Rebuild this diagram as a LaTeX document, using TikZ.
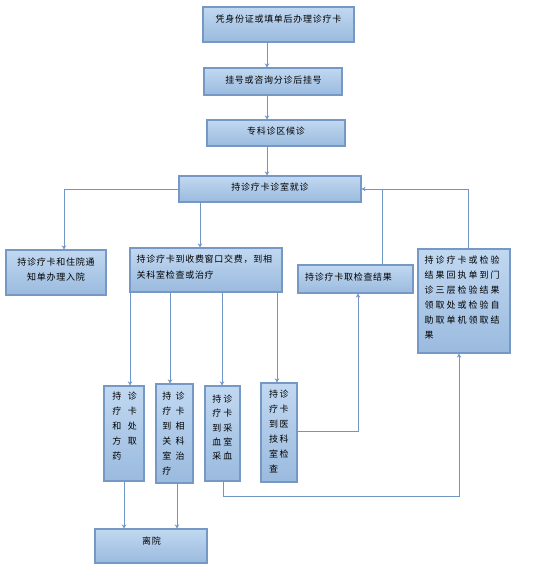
\documentclass[tikz,border=0pt]{standalone}
\usepackage{fontspec}
\newfontfamily\cjk[LetterSpace=8]{Noto Sans CJK SC}
\newfontfamily\cjkw[LetterSpace=22]{Noto Sans CJK SC}
\newfontfamily\cjkv{Noto Sans CJK SC}
\usetikzlibrary{arrows.meta}
\definecolor{bordc}{RGB}{118,152,196}
\definecolor{linec}{RGB}{112,150,198}
\definecolor{topc}{RGB}{193,216,241}
\definecolor{botc}{RGB}{154,186,222}
\newcommand\pr[3]{\makebox[#1][l]{#2}#3}
\begin{document}
\begin{tikzpicture}[x=1pt,y=-1pt,
 box/.style={draw=bordc, line width=1.2pt, top color=topc, bottom color=botc, inner sep=0pt},
 lab/.style={font=\fontsize{9}{15}\selectfont\cjk, inner sep=0pt, text=black},
 vlab/.style={inner sep=0pt, text=black, align=left, anchor=north west},
 conn/.style={draw=linec, line width=1pt},
 arr/.style={conn, -{Stealth[length=4pt,width=4.5pt]}}]
\fill[white] (0,0) rectangle (542,574);
\useasboundingbox (0,0) rectangle (542,574);

% boxes
\node[box, minimum width=151pt, minimum height=35pt] (b1) at (278.5,24.5) {};
\node[box, minimum width=138pt, minimum height=27pt] (b2) at (273,81.5) {};
\node[box, minimum width=138pt, minimum height=26pt] (b3) at (276,133) {};
\node[box, minimum width=182pt, minimum height=26pt] (b4) at (270,189) {};
\node[box, minimum width=100pt, minimum height=45pt] (b5) at (56,272.5) {};
\node[box, minimum width=152pt, minimum height=44pt] (b6) at (206,270) {};
\node[box, minimum width=115pt, minimum height=28pt] (b7) at (355.5,279) {};
\node[box, minimum width=92pt, minimum height=104pt] (b8) at (464,301) {};
\node[box, minimum width=40pt, minimum height=95pt] (b9) at (124,433.5) {};
\node[box, minimum width=37pt, minimum height=99pt] (b10) at (174.5,433.5) {};
\node[box, minimum width=35pt, minimum height=95pt] (b11) at (222.5,433.5) {};
\node[box, minimum width=36pt, minimum height=99pt] (b12) at (279,432.5) {};
\node[box, minimum width=112pt, minimum height=34pt] (b13) at (151,546) {};

% texts
\node[lab] (t1) at (278.5,19) {凭身份证或填单后办理诊疗卡};
\node[lab] (t2) at (273.5,80.5) {挂号或咨询分诊后挂号};
\node[lab] (t3) at (276,131) {专科诊区候诊};
\node[lab] (t4) at (270,187) {持诊疗卡诊室就诊};
\node[lab, align=center, anchor=north] (t5) at (56,257.2) {持诊疗卡和住院通\\知单办理入院};
\node[lab, font=\fontsize{9}{16}\selectfont\cjk, align=left, anchor=north west] (t6) at (136.5,254.5) {持诊疗卡到收费窗口交费，到相\\关科室检查或治疗};
\node[lab, anchor=west] (t7) at (305,277) {持诊疗卡取检查结果};
\node[lab, font=\fontsize{9}{15}\selectfont\cjkw, align=left, anchor=north west] (t8) at (424.5,255.5) {持诊疗卡或检验\\结果回执单到门\\诊三层检验结果\\领取处或检验自\\助取单机领取结\\果};
\node[vlab, font=\fontsize{9}{14.8}\selectfont\cjkv] (t9) at (112.2,392.2) {\pr{15.6pt}{持}{诊}\\\pr{15.6pt}{疗}{卡}\\\pr{15.6pt}{和}{处}\\\pr{15.6pt}{方}{取}\\药};
\node[vlab, font=\fontsize{9}{15}\selectfont\cjkv] (t10) at (162.2,392.2) {\pr{13.3pt}{持}{诊}\\\pr{13.3pt}{疗}{卡}\\\pr{13.3pt}{到}{相}\\\pr{13.3pt}{关}{科}\\\pr{13.3pt}{室}{治}\\疗};
\node[vlab, font=\fontsize{9}{14.3}\selectfont\cjkv] (t11) at (212.2,394.8) {\pr{11pt}{持}{诊}\\\pr{11pt}{疗}{卡}\\\pr{11pt}{到}{采}\\\pr{11pt}{血}{室}\\\pr{11pt}{采}{血}};
\node[vlab, font=\fontsize{9}{15}\selectfont\cjkv] (t12) at (268.8,389.8) {\pr{10.7pt}{持}{诊}\\\pr{10.7pt}{疗}{卡}\\\pr{10.7pt}{到}{医}\\\pr{10.7pt}{技}{科}\\\pr{10.7pt}{室}{检}\\查};
\node[lab] (t13) at (151.5,541) {离院};

% helper coordinates
\coordinate (xa) at (267,0);
\coordinate (xb) at (64,0);
\coordinate (xc) at (200,0);
\coordinate (xd) at (382,0);
\coordinate (xe) at (468,0);
\coordinate (x130) at (130,0);
\coordinate (x170) at (170,0);
\coordinate (x222) at (222,0);
\coordinate (x277) at (277,0);
\coordinate (x124) at (124,0);
\coordinate (x177) at (177,0);
\coordinate (x223) at (223,0);
\coordinate (x459) at (459,0);
\coordinate (x358) at (358,0);
\coordinate (y496) at (0,496);
\coordinate (y431) at (0,431);

% connectors
\draw[arr] (b1.south -| xa) -- (b2.north -| xa);
\draw[arr] (b2.south -| xa) -- (b3.north -| xa);
\draw[arr] (b3.south -| xa) -- (b4.north -| xa);
\draw[arr] (b4.west) -| (b5.north -| xb);
\draw[arr] (b4.south -| xc) -- (b6.north -| xc);
\draw[conn] (b7.north -| xd) -- (xd |- b4.east);
\draw[arr] (b8.north -| xe) |- (b4.east);
\draw[arr] (b6.south -| x130) -- (b9.north -| x130);
\draw[arr] (b6.south -| x170) -- (b10.north -| x170);
\draw[arr] (b6.south -| x222) -- (b11.north -| x222);
\draw[arr] (b6.south -| x277) -- (b12.north -| x277);
\draw[arr] (b9.south -| x124) -- (b13.north -| x124);
\draw[arr] (b10.south -| x177) -- (b13.north -| x177);
\draw[arr] (b11.south -| x223) -- (x223 |- y496) -| (b8.south -| x459);
\draw[arr] (b12.east |- y431) -| (b7.south -| x358);
\end{tikzpicture}
\end{document}
